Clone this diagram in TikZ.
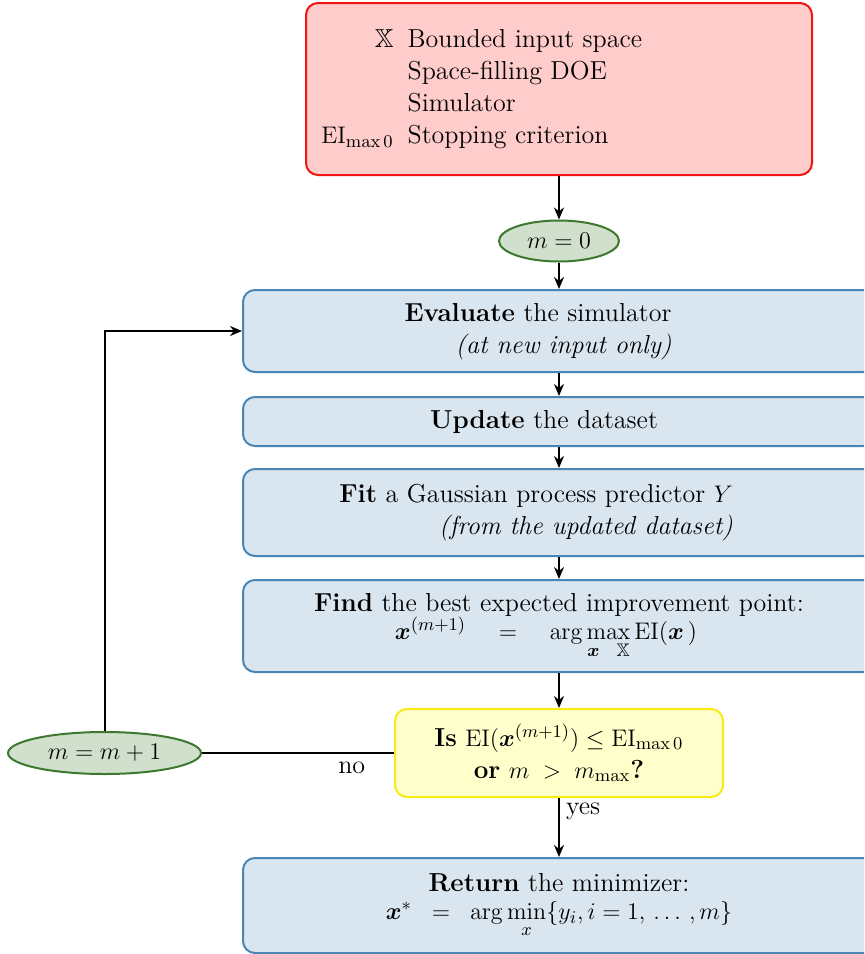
\documentclass[tikz,border=0pt]{standalone}
\usepackage{amsmath,amssymb,bm}
\usetikzlibrary{arrows.meta,shapes.geometric,calc}
\definecolor{redfill}{RGB}{255,204,204}
\definecolor{redline}{RGB}{240,20,20}
\definecolor{bluefill}{RGB}{218,230,239}
\definecolor{blueline}{RGB}{74,134,181}
\definecolor{greenfill}{RGB}{208,224,204}
\definecolor{greenline}{RGB}{60,120,45}
\definecolor{yellowfill}{RGB}{255,255,204}
\definecolor{yellowline}{RGB}{250,235,20}
\newcommand{\padr}[1]{\makebox[#1]{}}
\tikzset{
  stepbox/.style={draw=blueline, fill=bluefill, line width=1pt, rounded corners=6pt,
    minimum width=316pt, align=center, inner sep=2pt},
  startbox/.style={draw=redline, fill=redfill, line width=1pt, rounded corners=6pt,
    minimum width=253pt, minimum height=86pt},
  counter/.style={ellipse, draw=greenline, fill=greenfill, line width=1pt, inner sep=0pt},
  testbox/.style={draw=yellowline, fill=yellowfill, line width=1pt, rounded corners=6pt,
    minimum width=164pt, minimum height=44pt, align=center, inner sep=2pt},
  flow/.style={-{Stealth[length=6pt,width=5pt]}, line width=1pt},
  plain/.style={line width=1pt},
  every node/.style={font=\fontsize{13}{16}\selectfont},
}
\begin{document}
\begin{tikzpicture}[x=0.5pt,y=-0.5pt]
\clip (0,0) rectangle (864,954);
\useasboundingbox (0,0) rectangle (864,954);

\node[startbox] (input) at (559,89) {};
\node[anchor=west, inner sep=0pt] (inputtext) at ($(input.west)+(16,0)$) {%
  \begin{tabular}{@{}r@{\hspace{7pt}}l@{}}
  $\mathbb{X}$ & Bounded input space\\
   & Space-filling DOE\\
   & Simulator\\
  $\mathrm{EI}_{\mathrm{max}\,0}$ & Stopping criterion
  \end{tabular}};

\node[counter, minimum width=60pt, minimum height=20.5pt] (m0) at (559,241) {$m=0$};

\node[stepbox, minimum height=41pt] (eval) at (559,331)
  {\begin{tabular}{@{}r@{}}\textbf{Evaluate} the simulator\\ \textit{(at new input only)}\end{tabular}\padr{21pt}};
\node[stepbox, minimum height=24.5pt] (update) at (559,421.5)
  {\textbf{Update} the dataset\padr{15pt}};
\node[stepbox, minimum height=43.5pt] (fit) at (559,512.5)
  {\begin{tabular}{@{}r@{}}\textbf{Fit} a Gaussian process predictor $Y$\\ \textit{(from the updated dataset)}\end{tabular}\padr{23pt}};
\node[stepbox, minimum height=46pt] (find) at (559,626)
  {\textbf{Find} the best expected improvement point:\\[-2pt]
   $\bm{x}^{(m+1)}\quad=\quad\arg\max\limits_{\bm{x}\ \ \mathbb{X}}\mathrm{EI}(\bm{x}\,)$\padr{13pt}};

\node[testbox] (test) at (559,753)
  {\textbf{Is} $\mathrm{EI}(\bm{x}^{(m+1)})\le\mathrm{EI}_{\mathrm{max}\,0}$\\
   \textbf{or} $m\;>\;m_{\mathrm{max}}$\textbf{?}};

\node[counter, minimum width=96.5pt, minimum height=21pt] (inc) at (104.5,753) {$m=m+1$};

\node[stepbox, minimum height=47.5pt] (ret) at (559,905.5)
  {\textbf{Return} the minimizer:\\[-2pt]
   $\bm{x}^{*}\;\;=\;\;\arg\min\limits_{x}\{y_i,i=1,\,\ldots\,,m\}$};

\draw[flow] (input.south -| m0) -- (m0.north);
\draw[flow] (m0.south) -- (eval.north);
\draw[flow] (eval.south) -- (update.north);
\draw[flow] (update.south) -- (fit.north);
\draw[flow] (fit.south) -- (find.north);
\draw[flow] (find.south) -- (test.north);
\draw[flow] (test.south) -- node[right, pos=0.22, inner sep=3pt] (yes) {yes} (ret.north);
\draw[plain] (test.west) -- node[below, pos=0.22, inner sep=4pt] (no) {no} (inc.east);
\draw[flow] (inc.north) |- (eval.west);
\end{tikzpicture}
\end{document}
